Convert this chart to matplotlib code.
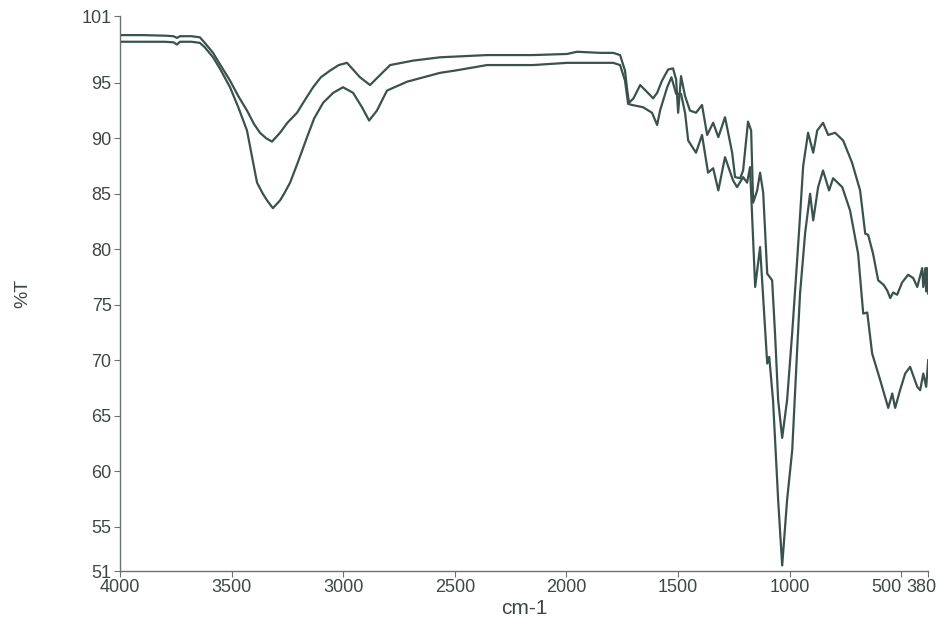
#### Workspace setup ####
import matplotlib

matplotlib.use("Agg")
import matplotlib.pyplot as plt
import matplotlib.transforms as mtransforms

#### Spectrum data (wavenumber in cm-1, %T) ####
# Upper trace
wn_upper = [
    4000, 3900, 3800, 3760, 3745, 3731, 3680, 3642, 3620, 3583, 3550, 3507,
    3470, 3431, 3400, 3373, 3345, 3319, 3283, 3250, 3207, 3170, 3135, 3100,
    3059, 3020, 2983, 2925, 2880, 2835, 2790, 2687, 2566, 2356, 2150, 1997,
    1953, 1850, 1791, 1760, 1738, 1729, 1720, 1700, 1670, 1626, 1612, 1594,
    1572, 1545, 1523, 1509, 1500, 1487, 1469, 1447, 1420, 1393, 1370, 1343,
    1320, 1290, 1258, 1245, 1222, 1209, 1187, 1173, 1164, 1146, 1133, 1119,
    1101, 1079, 1066, 1052, 1034, 1012, 989, 967, 954, 940, 918, 895, 877,
    851, 828, 797, 761, 721, 685, 662, 649, 627, 604, 580, 564, 550, 537,
    519, 497, 470, 447, 429, 416, 407, 402, 393, 389, 385, 380,
]
t_upper = [
    99.3, 99.3, 99.25, 99.2, 99.05, 99.2, 99.2, 99.1, 98.6, 97.7, 96.6, 95.2,
    93.8, 92.5, 91.3, 90.5, 90.0, 89.7, 90.5, 91.4, 92.3, 93.5, 94.6, 95.5,
    96.1, 96.6, 96.8, 95.5, 94.8, 95.7, 96.6, 97.0, 97.3, 97.5, 97.5, 97.6,
    97.8, 97.7, 97.7, 97.5, 96.1, 94.5, 93.2, 93.6, 94.8, 93.9, 93.6, 94.1,
    95.2, 96.2, 96.3, 95.3, 92.3, 95.6, 93.8, 92.5, 92.3, 93.0, 90.3, 91.4,
    90.1, 91.9, 88.7, 86.5, 86.4, 87.1, 91.5, 90.7, 84.2, 85.3, 86.9, 85.1,
    77.8, 77.2, 72.4, 66.4, 63.0, 66.4, 72.5, 79.0, 83.0, 87.5, 90.5, 88.7,
    90.7, 91.4, 90.3, 90.5, 89.8, 87.8, 85.3, 81.4, 81.3, 79.6, 77.2, 76.8,
    76.3, 75.6, 76.1, 75.9, 77.0, 77.7, 77.4, 76.6, 77.6, 78.3, 76.6, 78.3,
    76.2, 78.3, 76.0,
]

# Lower trace
wn_lower = [
    4000, 3900, 3800, 3760, 3745, 3731, 3680, 3642, 3620, 3583, 3550, 3507,
    3470, 3431, 3410, 3386, 3360, 3341, 3315, 3283, 3265, 3238, 3200, 3162,
    3130, 3090, 3045, 3001, 2956, 2916, 2884, 2849, 2804, 2714, 2566, 2500,
    2356, 2150, 1997, 1791, 1760, 1738, 1724, 1706, 1657, 1617, 1594, 1581,
    1549, 1530, 1509, 1500, 1487, 1469, 1455, 1420, 1393, 1366, 1343, 1320,
    1290, 1254, 1236, 1209, 1191, 1178, 1155, 1133, 1101, 1092, 1075, 1052,
    1034, 1012, 989, 967, 954, 931, 909, 895, 873, 851, 824, 806, 765, 730,
    694, 671, 653, 631, 595, 582, 559, 541, 528, 506, 483, 461, 429, 416,
    402, 389, 380,
]
t_lower = [
    98.7, 98.7, 98.7, 98.65, 98.45, 98.7, 98.7, 98.6, 98.2, 97.3, 96.2, 94.6,
    92.8, 90.7, 88.5, 86.0, 85.0, 84.4, 83.7, 84.4, 85.0, 86.0, 88.0, 90.1,
    91.8, 93.2, 94.1, 94.6, 94.1, 92.8, 91.6, 92.5, 94.3, 95.1, 95.9, 96.1,
    96.6, 96.6, 96.8, 96.8, 96.6, 95.2, 93.1, 93.0, 92.8, 92.3, 91.2, 92.5,
    94.6, 95.5, 94.0, 94.0, 94.0, 92.3, 89.8, 88.7, 90.3, 86.9, 87.3, 85.3,
    88.3, 86.2, 85.6, 86.5, 86.0, 87.4, 76.6, 80.2, 69.7, 70.3, 66.4, 57.4,
    51.5, 57.4, 61.9, 70.9, 76.0, 81.5, 85.0, 82.6, 85.6, 87.1, 85.3, 86.4,
    85.6, 83.5, 79.6, 74.2, 74.3, 70.6, 68.2, 67.3, 65.7, 67.0, 65.7, 67.3,
    68.8, 69.4, 67.6, 67.3, 68.8, 67.6, 70.0,
]

# Axis ticks
x_ticks = [4000, 3500, 3000, 2500, 2000, 1500, 1000, 500, 380]
y_ticks = [51, 55, 60, 65, 70, 75, 80, 85, 90, 95, 101]


#### MAIN FUNCTION ####
def main():
    plt.rcParams["font.family"] = ["Liberation Sans", "DejaVu Sans"]
    line_color = "#3a524d"
    text_color = "#3f4745"

    fig = plt.figure(figsize=(9.52, 6.27), dpi=100)
    ax = fig.add_axes([0.126, 0.0893, 0.849, 0.8848])

    # Both traces share the same styling
    ax.plot(wn_upper, t_upper, color=line_color, lw=1.6)
    ax.plot(wn_lower, t_lower, color=line_color, lw=1.6)

    # Wavenumber axis runs high to low
    ax.set_xlim(4000, 380)
    ax.set_ylim(51, 101)
    ax.set_xticks(x_ticks)
    ax.set_xticklabels([str(v) for v in x_ticks])
    ax.set_yticks(y_ticks)
    ax.set_yticklabels([str(v) for v in y_ticks])

    for side in ["top", "right"]:
        ax.spines[side].set_visible(False)
    for side in ["left", "bottom"]:
        ax.spines[side].set_color("#6b7371")
        ax.spines[side].set_linewidth(1.0)

    ax.tick_params(direction="out", length=4, width=0.8, color="#6b7371",
                   labelsize=13, labelcolor=text_color, pad=2)

    # Squeeze the last two labels together so they don't collide
    labels = ax.get_xticklabels()
    labels[-2].set_ha("right")
    labels[-1].set_transform(labels[-1].get_transform() +
                             mtransforms.ScaledTranslation(-0.07, 0, fig.dpi_scale_trans))

    ax.set_xlabel("cm-1", fontsize=15, color=text_color, labelpad=2)
    ax.set_ylabel("%T", fontsize=14, color=text_color, labelpad=36)

    fig.savefig("out.png", dpi=100, facecolor="white")
    plt.close(fig)


#### ENTRY POINT ####
if __name__ == "__main__":
    main()
